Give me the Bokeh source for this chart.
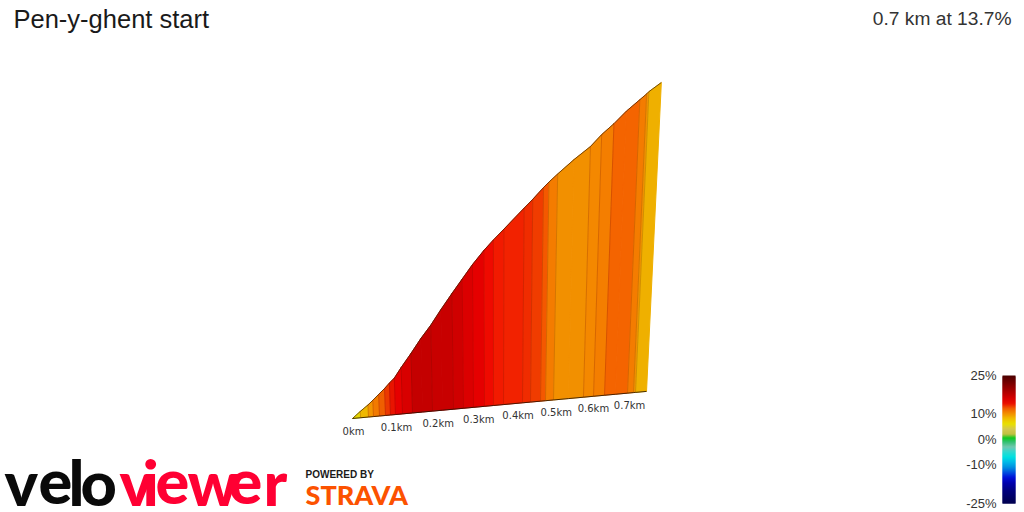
import numpy as np
from bokeh.plotting import figure
from bokeh.embed import file_html
from bokeh.resources import INLINE
from bokeh.core.properties import value

title = "Pen-y-ghent start"
summary = "0.7 km at 13.7%"
tick_km = [0, 0.1, 0.2, 0.3, 0.4, 0.5, 0.6, 0.7]
tick_labels = ["0km", "0.1km", "0.2km", "0.3km", "0.4km", "0.5km", "0.6km", "0.7km"]

dist_km = [0, .0184, .0368, .0484, .0624, .0765, .0882, .1, .1166, .1404, .1644, .1885, .2129, .2398, .2645, .2894,
           .317, .3398, .3652, .414, .4348, .461, .4741, .4953, .5352, .5756, .603, .6332, .6635, .6971, .7139, .7196, .7508]
elev_m = [0, 1.84, 3.54, 4.77, 6.37, 7.94, 9.43, 10.77, 13.73, 17.67, 21.9, 25.72, 30.17, 34.87, 39.08, 43.35,
          47.55, 50.64, 53.87, 60.21, 62.87, 66.5, 68.18, 70.68, 75.17, 79.3, 83.1, 86.6, 90.62, 94.4, 96.3, 97.06, 100.1]
seg_colors = ["#e8d800", "#efb800", "#f39400", "#f27a00", "#ef5f00", "#ec3800", "#e81400", "#e60000",
              "#d80000", "#c40000", "#c40000", "#c80000", "#c80000", "#cf0000", "#db0000", "#e50000", "#ef0a00", "#f21a00",
              "#f22200", "#f02c00", "#f03c00", "#f45800", "#f47c00", "#f29000", "#f29000", "#f48800", "#f47e00",
              "#f46400", "#f46400", "#f47c00", "#f29000", "#efb000"]

legend_pct = [25, 10, 0, -10, -25]
legend_labels = ["25%", "10%", "0%", "-10%", "-25%"]
ramp_pct = [25, 22, 19, 16, 14, 12, 10, 8, 6, 4, 2, 0.5, -1, -3, -5, -7, -9, -11, -13, -15, -17, -20, -25]
ramp_colors = ["#4a0000", "#7a0000", "#a80000", "#d80000", "#ea1000", "#f06000", "#f29000", "#f0c000",
               "#e8e000", "#d4c850", "#c0c040", "#10c820", "#30c070", "#70c8b0", "#30d8d0", "#00e0e0",
               "#00b8e8", "#0090e0", "#0050e0", "#0010d8", "#0000b0", "#000080", "#000050"]

# perspective of the 3D view
A, B, SLOPE, PX_M = 436.6, 0.153, 0.0922, 3.44
LEAN_K, LEAN_X = 0.000318, 495.0
X0, Y0 = 352.0, 418.0

def base(d):
    X = A * d / (1 + B * d)
    return X0 + X, Y0 - SLOPE * X

def top(d, e):
    bx, by = base(d)
    h = e * PX_M / (1 + B * d)
    return bx + LEAN_K * (bx - LEAN_X) * h, by - h

p = figure(width=1024, height=512, x_range=(0, 1024), y_range=(512, 0), toolbar_location=None,
           output_backend="svg", min_border=0, outline_line_color=None)
p.xaxis.visible = False
p.yaxis.visible = False
p.grid.visible = False

xs, ys = [], []
for i in range(len(seg_colors)):
    b0, b1 = base(dist_km[i]), base(dist_km[i + 1])
    t0, t1 = top(dist_km[i], elev_m[i]), top(dist_km[i + 1], elev_m[i + 1])
    xs.append([b0[0], b1[0], t1[0], t0[0]])
    ys.append([b0[1], b1[1], t1[1], t0[1]])
p.patches(xs, ys, fill_color=seg_colors, fill_alpha=1, line_color=seg_colors, line_alpha=1, line_width=1)
# subtle darker edges where the gradient band changes
keep = [i for i in range(len(seg_colors) - 1) if seg_colors[i] != seg_colors[i + 1]]
p.multi_line([[xs[i][1], xs[i][2]] for i in keep], [[ys[i][1], ys[i][2]] for i in keep],
             line_color="#601000", line_alpha=0.2, line_width=1)

tops = [top(d, e) for d, e in zip(dist_km, elev_m)]
p.line([t[0] for t in tops], [t[1] for t in tops], line_color="#402000", line_alpha=0.7, line_width=1)
bases = [base(d) for d in dist_km]
p.line([t[0] for t in bases], [t[1] for t in bases], line_color="#201000", line_alpha=0.8, line_width=1)

tb = [base(d) for d in tick_km]
p.text([t[0] + 1 for t in tb], [t[1] + 12.5 for t in tb], text=tick_labels, text_font=value("DejaVu Sans"),
       text_font_size="10px", text_align="center", text_baseline="middle", text_color="#333333")

p.text([13], [18], text=[title], text_font=value("Liberation Sans"), text_font_size="25.5px",
       text_baseline="middle", text_color="#1a1a1a")
p.text([1011], [18], text=[summary], text_font=value("Liberation Sans"), text_font_size="19.2px",
       text_align="right", text_baseline="middle", text_color="#333333")

# colour legend: a smooth ramp between the read colour stops; rows overlap so no white shows through
def leg_y(g):
    return 438.75 - 2.55 * g
rows = np.arange(375, 503)
row_pct = (438.75 - (rows + 0.5)) / 2.55
stops = np.array([[int(c[k:k + 2], 16) for k in (1, 3, 5)] for c in ramp_colors])
order = np.argsort(ramp_pct)
rp = np.array(ramp_pct)[order]
row_rgb = [np.interp(row_pct, rp, stops[order, k]) for k in range(3)]
row_col = ["#%02x%02x%02x" % (round(r), round(g), round(b)) for r, g, b in zip(*row_rgb)]
p.quad(left=1002, right=1015, top=rows.tolist(), bottom=np.minimum(rows + 2, 503).tolist(),
       fill_color=row_col, fill_alpha=1, line_color=None)
p.text([996] * 5, [leg_y(g) for g in legend_pct], text=legend_labels, text_font=value("Liberation Sans"),
       text_font_size="13px", text_align="right", text_baseline="middle", text_color="#333333")

# logos
logo_letters = list("veloviewer")
logo_left = [4, 38, 68, 80, 119, 142, 155, 187, 228, 263]
logo_cols = ["#0a0a0a"] * 4 + ["#ff0033"] * 6
p.text(logo_left, [480.5] * 10, text=logo_letters, text_font=value("Lato Black"), text_font_style="bold",
       text_font_size="63px", text_baseline="middle", text_color=logo_cols)
p.text([305], [474], text=["POWERED BY"], text_font=value("Liberation Sans"), text_font_style="bold",
       text_font_size="10px", text_baseline="middle", text_color="#1a1a1a")
p.text([305], [494], text=["STRAVA"], text_font=value("Lato Black"), text_font_style="bold",
       text_font_size="27px", text_baseline="middle", text_color="#fc5200")

open("out.html", "w").write(file_html(p, INLINE))
